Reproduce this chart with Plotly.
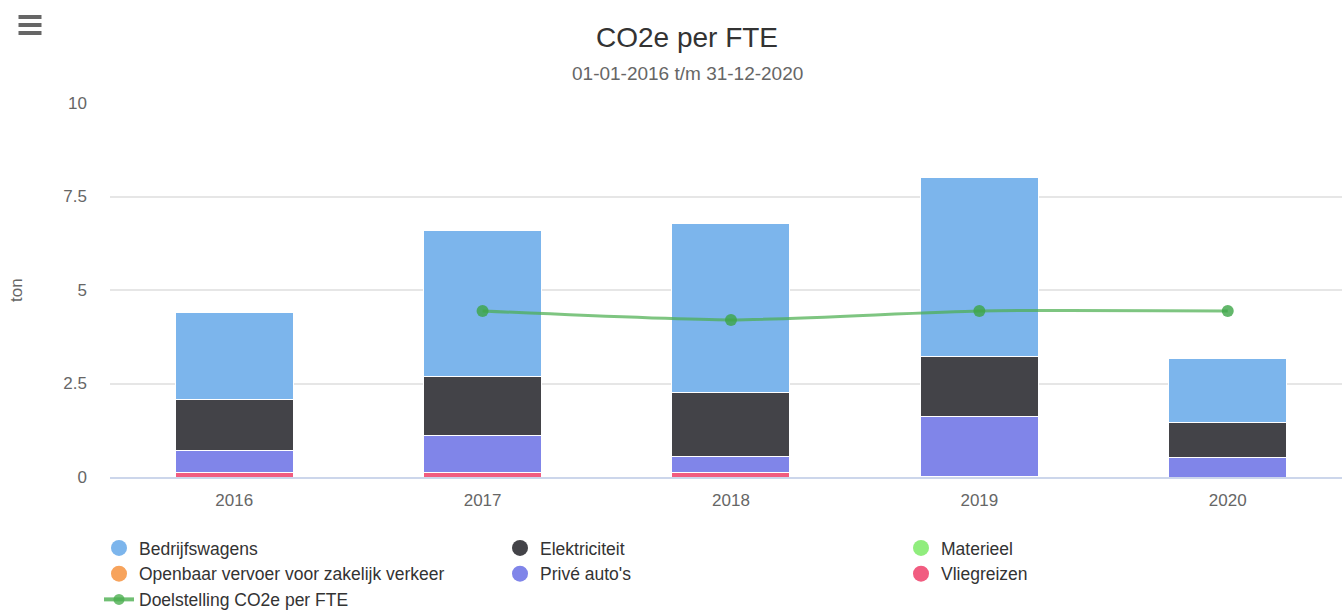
import plotly.graph_objects as go

years = ["2016", "2017", "2018", "2019", "2020"]
vliegreizen = [0.12, 0.12, 0.12, 0.02, 0.0]
prive_autos = [0.60, 0.99, 0.43, 1.61, 0.51]
elektriciteit = [1.34, 1.59, 1.72, 1.58, 0.96]
materieel = [0.0, 0.0, 0.0, 0.0, 0.0]
openbaar_vervoer = [0.0, 0.0, 0.0, 0.0, 0.0]
bedrijfswagens = [2.33, 3.88, 4.52, 4.79, 1.69]
doelstelling = [None, 4.44, 4.20, 4.44, 4.44]

y_ticks = [0, 2.5, 5, 7.5, 10]
y_tick_labels = ["0", "2.5", "5", "7.5", "10"]

W, H = 1342, 612
ML, MR, MT, MB = 110, 0, 103, 135
FONT = "Liberation Sans, Arial, sans-serif"

fig = go.Figure()

bar_series = [
    ("Vliegreizen", vliegreizen, "#f15c80"),
    ("Privé auto's", prive_autos, "#8085e9"),
    ("Openbaar vervoer voor zakelijk verkeer", openbaar_vervoer, "#f7a35c"),
    ("Materieel", materieel, "#90ed7d"),
    ("Elektriciteit", elektriciteit, "#434348"),
    ("Bedrijfswagens", bedrijfswagens, "#7cb5ec"),
]
for name, vals, col in bar_series:
    fig.add_trace(go.Bar(
        x=years, y=vals, name=name, marker=dict(color=col, line=dict(color="white", width=1)),
        width=0.475, showlegend=False,
    ))

line_col = "rgba(76,175,80,0.72)"
fig.add_trace(go.Scatter(
    x=years, y=doelstelling, mode="lines+markers", name="Doelstelling CO2e per FTE",
    line=dict(color=line_col, width=3, shape="spline", smoothing=0.6),
    marker=dict(color="rgba(60,165,70,0.8)", size=12), showlegend=False, connectgaps=False,
))

# legend-only entries (order as in the reference legend)
legend_items = [
    ("Bedrijfswagens", "#7cb5ec"),
    ("Elektriciteit", "#434348"),
    ("Materieel", "#90ed7d"),
    ("Openbaar vervoer voor zakelijk verkeer", "#f7a35c"),
    ("Privé auto's", "#8085e9"),
    ("Vliegreizen", "#f15c80"),
]
for name, col in legend_items:
    fig.add_trace(go.Scatter(x=[None], y=[None], mode="markers", name=name,
                             marker=dict(color=col, size=18, symbol="circle")))
fig.add_trace(go.Scatter(x=[None], y=[None], mode="lines+markers", name="Doelstelling CO2e per FTE",
                         line=dict(color="rgba(76,175,80,0.8)", width=4),
                         marker=dict(color="rgba(76,175,80,0.8)", size=11)))

pw = W - ML - MR
ph = H - MT - MB
def px2paper_x(px):
    return (px - ML) / pw
def px2paper_y(py):
    return (H - MB - py) / ph

shapes = []
for yy in (17, 25, 33):
    shapes.append(dict(type="line", xref="paper", yref="paper",
                       x0=px2paper_x(18.5), x1=px2paper_x(41.5),
                       y0=px2paper_y(yy), y1=px2paper_y(yy),
                       line=dict(color="#666666", width=4)))

fig.update_layout(
    width=W, height=H,
    margin=dict(l=ML, r=MR, t=MT, b=MB, pad=0, autoexpand=False),
    barmode="stack", bargap=0.525,
    paper_bgcolor="white", plot_bgcolor="white",
    font=dict(family=FONT, color="#666666", size=17),
    title=dict(text="CO2e per FTE", x=687 / W, xref="container", xanchor="center",
               y=1 - 37 / H, yref="container", yanchor="middle",
               font=dict(size=28, color="#333333", family=FONT)),
    annotations=[
        dict(text="01-01-2016 t/m 31-12-2020", xref="paper", yref="paper",
             x=px2paper_x(687), xanchor="center", y=px2paper_y(74), yanchor="middle",
             showarrow=False, font=dict(size=19, color="#666666", family=FONT)),
        dict(text="ton", xref="paper", yref="paper", x=px2paper_x(16), xanchor="center",
             y=px2paper_y(290), yanchor="middle", textangle=-90, showarrow=False,
             font=dict(size=17, color="#666666", family=FONT)),
    ],
    xaxis=dict(range=[-0.5, 4.46], showgrid=False, showline=True, linecolor="#ccd6eb",
               linewidth=1.5, ticks="", tickfont=dict(size=17, color="#666666"),
               ticklabelstandoff=7, fixedrange=True),
    yaxis=dict(range=[0, 10], tickvals=y_ticks, ticktext=y_tick_labels, showgrid=True,
               gridcolor="#e6e6e6", gridwidth=1.5, zeroline=False, showline=False,
               tickfont=dict(size=17, color="#666666"), ticklabelstandoff=22),
    legend=dict(orientation="h", x=px2paper_x(99), xanchor="left", y=px2paper_y(530),
                yanchor="top", entrywidth=356, entrywidthmode="pixels", traceorder="normal",
                font=dict(size=17.5, color="#333333", family=FONT), itemsizing="trace",
                tracegroupgap=0, bgcolor="rgba(0,0,0,0)"),
    shapes=shapes,
    showlegend=True,
)

fig.write_html("out.html", config={"displayModeBar": False},
               post_script="document.body.style.margin='0px';document.body.style.overflow='hidden';")
